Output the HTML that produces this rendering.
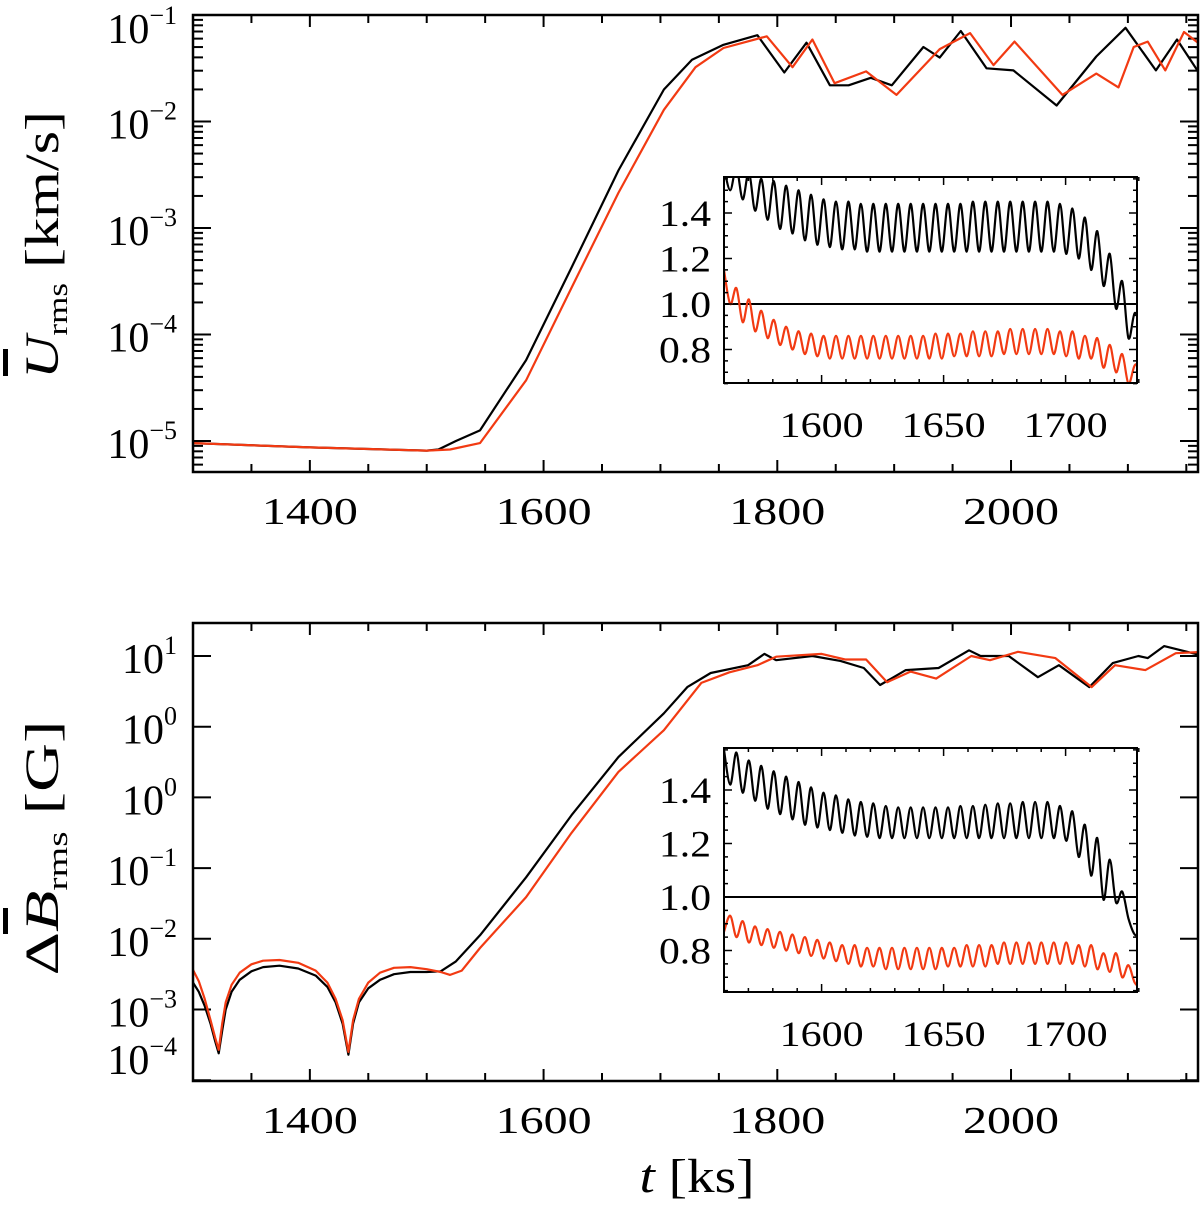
<!DOCTYPE html>
<html><head><meta charset="utf-8"><style>
html,body{margin:0;padding:0;background:#fff;}
svg{display:block;font-family:"Liberation Serif",serif;}
</style></head><body>
<svg id="fig" width="1200" height="1205" viewBox="0 0 1200 1205" xmlns="http://www.w3.org/2000/svg">
<rect width="1200" height="1205" fill="#fff"/>
<g id="top-panel"></g>
<g id="bottom-panel"></g>
<text transform="translate(58,245) rotate(-90)" text-anchor="middle" font-size="48" textLength="268" lengthAdjust="spacingAndGlyphs"><tspan font-style="italic">U</tspan><tspan font-size="28" dy="9">rms</tspan><tspan dy="-9"> [km/s]</tspan></text>
<rect x="3" y="349" width="5" height="27" fill="#000"/>
<text transform="translate(58,848) rotate(-90)" text-anchor="middle" font-size="48" textLength="255" lengthAdjust="spacingAndGlyphs">Δ<tspan font-style="italic">B</tspan><tspan font-size="28" dy="9">rms</tspan><tspan dy="-9"> [G]</tspan></text>
<rect x="3" y="908" width="5" height="26" fill="#000"/>
<text x="697" y="1192" text-anchor="middle" font-size="48" textLength="115" lengthAdjust="spacingAndGlyphs"><tspan font-style="italic">t</tspan> [ks]</text>
</svg>
<script>
// ---------- data ----------
const topBlackT = [1300,1400,1500,1510,1525,1545.6,1585,1624,1664,1703,1727,1754,1783,1806,1825,1845,1861,1880,1898,1925,1939,1957,1979,2002,2039,2073,2098,2124,2142,2160];
const topBlackV = [-5.02,-5.06,-5.09,-5.08,-5.0,-4.90,-4.24,-3.37,-2.46,-1.70,-1.42,-1.28,-1.19,-1.54,-1.26,-1.66,-1.66,-1.59,-1.66,-1.30,-1.40,-1.15,-1.50,-1.52,-1.85,-1.39,-1.12,-1.52,-1.23,-1.53];
const topRedT = [1300,1400,1500,1520,1545.6,1585,1624,1664,1703,1730,1754,1791,1813,1830,1849,1876,1902,1939,1965,1985,2003,2044,2073,2092,2105,2117,2132,2148,2160];
const topRedV = [-5.02,-5.06,-5.09,-5.08,-5.02,-4.43,-3.56,-2.67,-1.89,-1.49,-1.31,-1.20,-1.49,-1.23,-1.64,-1.53,-1.75,-1.32,-1.17,-1.47,-1.25,-1.75,-1.55,-1.68,-1.30,-1.25,-1.52,-1.16,-1.26];

const botBlackT = [1300,1305,1310,1315,1319,1322,1325,1328,1333,1340,1350,1360,1374,1390,1405,1415,1422,1428,1433,1437,1442,1450,1460,1472,1486,1500,1512,1525,1545.6,1585,1624,1664,1703,1723,1743,1775,1789,1799,1830,1854,1874,1888,1910,1938,1964,1974,1998,2023,2041,2067,2087,2109,2117,2131,2165];
const botBlackV = [-3.62,-3.75,-3.95,-4.2,-4.45,-4.62,-4.3,-4.0,-3.75,-3.58,-3.46,-3.40,-3.38,-3.42,-3.52,-3.68,-3.9,-4.2,-4.64,-4.2,-3.9,-3.7,-3.58,-3.50,-3.47,-3.47,-3.46,-3.32,-2.95,-2.13,-1.25,-0.43,0.19,0.56,0.76,0.87,1.03,0.94,1.0,0.93,0.83,0.59,0.80,0.83,1.08,1.0,1.0,0.70,0.87,0.56,0.9,1.0,0.97,1.14,1.0];
const botRedT = [1300,1305,1310,1315,1319,1322,1325,1328,1333,1340,1350,1360,1374,1390,1405,1415,1422,1428,1433,1437,1442,1450,1460,1472,1486,1500,1512,1520,1530,1545.6,1585,1624,1664,1703,1735,1759,1783,1799,1838,1858,1876,1894,1914,1936,1966,1982,2006,2038,2069,2089,2115,2141,2165];
const botRedV = [-3.44,-3.6,-3.85,-4.15,-4.4,-4.57,-4.2,-3.9,-3.65,-3.48,-3.36,-3.31,-3.30,-3.34,-3.45,-3.62,-3.85,-4.15,-4.6,-4.15,-3.85,-3.62,-3.48,-3.41,-3.40,-3.43,-3.47,-3.51,-3.45,-3.13,-2.41,-1.50,-0.64,-0.05,0.62,0.77,0.87,0.99,1.03,0.95,0.95,0.63,0.78,0.68,1.0,0.94,1.06,0.97,0.56,0.87,0.80,1.04,1.06];

const insetStart = 1560, insetStep = 2.55;
const inTopBlack = [1.60,1.50,1.60,1.46,1.58,1.41,1.55,1.37,1.54,1.33,1.52,1.31,1.50,1.28,1.48,1.26,1.46,1.25,1.45,1.24,
 1.45,1.24,1.44,1.23,1.44,1.23,1.44,1.23,1.44,1.23,1.44,1.23,1.44,1.23,1.44,1.23,1.44,1.23,1.44,1.23,
 1.45,1.23,1.45,1.23,1.45,1.23,1.45,1.23,1.45,1.23,1.45,1.23,1.45,1.23,1.44,1.22,1.42,1.20,1.38,1.15,
 1.32,1.08,1.22,0.98,1.10,0.85,0.96,0.90];
const inTopRed = [1.15,1.00,1.07,0.92,1.02,0.88,0.97,0.85,0.93,0.82,0.90,0.80,0.88,0.78,0.87,0.77,0.86,0.76,0.86,0.76,
 0.86,0.76,0.86,0.76,0.86,0.76,0.86,0.76,0.86,0.76,0.86,0.76,0.86,0.76,0.87,0.76,0.87,0.77,0.87,0.77,
 0.88,0.77,0.88,0.77,0.88,0.78,0.89,0.78,0.89,0.78,0.89,0.78,0.89,0.78,0.88,0.77,0.88,0.76,0.86,0.76,
 0.85,0.72,0.82,0.70,0.78,0.65,0.73,0.73];
const inBotBlack = [1.55,1.42,1.54,1.39,1.51,1.36,1.49,1.33,1.47,1.31,1.45,1.29,1.43,1.27,1.41,1.26,1.39,1.25,1.38,1.24,
 1.365,1.23,1.355,1.225,1.35,1.22,1.34,1.22,1.335,1.22,1.335,1.22,1.335,1.22,1.335,1.22,1.335,1.22,1.34,1.22,
 1.34,1.22,1.345,1.22,1.35,1.22,1.35,1.22,1.355,1.22,1.355,1.22,1.355,1.22,1.34,1.21,1.32,1.15,1.27,1.08,
 1.22,0.99,1.14,0.98,1.02,0.92,0.86,0.86];
const inBotRed = [0.87,0.93,0.85,0.91,0.83,0.89,0.82,0.88,0.81,0.87,0.80,0.86,0.79,0.85,0.78,0.84,0.77,0.83,0.76,0.82,
 0.75,0.82,0.74,0.81,0.74,0.81,0.73,0.81,0.73,0.81,0.73,0.81,0.73,0.81,0.73,0.81,0.74,0.81,0.74,0.82,
 0.74,0.82,0.74,0.82,0.75,0.83,0.75,0.83,0.75,0.83,0.75,0.83,0.75,0.83,0.75,0.83,0.75,0.82,0.74,0.82,
 0.73,0.79,0.72,0.79,0.70,0.745,0.68,0.66];

const mainXTicks = [1400,1600,1800,2000];
const mainXTickLabels = ["1400","1600","1800","2000"];
const topYTicks = [-1,-2,-3,-4,-5];
const topYTickLabels = ["−1","−2","−3","−4","−5"];
const botYTicks = [1,0,-1,-2,-3,-4,-5];
const botYTickLabels = ["1","0","0","−1","−2","−3","−4"];
const insetXTicks = [1600,1650,1700];
const insetXTickLabels = ["1600","1650","1700"];
const insetYTicks = [0.8,1.0,1.2,1.4];
const insetYTickLabels = ["0.8","1.0","1.2","1.4"];

// ---------- scales ----------
const NS = "http://www.w3.org/2000/svg";
const RED = "#f23a12";
const X = t => 193 + (t - 1300) * 1.1686;
const Y1 = l => 15 + (-1 - l) * 106.5;
const Y2 = d => 656 - (d - 1) * 70.7;
const XI = t => 724 + (t - 1560) * 2.44;
const YI1 = v => 304 - (v - 1) * 227.5;
const YI2 = v => 897 - (v - 1) * 267.5;

function mk(tag, attrs, parent) {
  const e = document.createElementNS(NS, tag);
  for (const k in attrs) e.setAttribute(k, attrs[k]);
  parent.appendChild(e);
  return e;
}
function line(p, x1, y1, x2, y2, w) {
  const l = mk("line", {x1, y1, x2, y2, stroke: "#000", "stroke-width": w || 2}, p);
  
  
  return l;
}
function polyPath(xs, ys) {
  return xs.map((x, i) => (i ? "L" : "M") + x.toFixed(1) + "," + ys[i].toFixed(1)).join("");
}
function smoothPath(xs, ys) {
  let d = "M" + xs[0].toFixed(1) + "," + ys[0].toFixed(1);
  for (let i = 0; i < xs.length - 1; i++) {
    const x0 = xs[Math.max(i - 1, 0)], y0 = ys[Math.max(i - 1, 0)];
    const x1 = xs[i], y1 = ys[i], x2 = xs[i + 1], y2 = ys[i + 1];
    const x3 = xs[Math.min(i + 2, xs.length - 1)], y3 = ys[Math.min(i + 2, xs.length - 1)];
    d += "C" + (x1 + (x2 - x0) / 6).toFixed(1) + "," + (y1 + (y2 - y0) / 6).toFixed(1) + " " +
      (x2 - (x3 - x1) / 6).toFixed(1) + "," + (y2 - (y3 - y1) / 6).toFixed(1) + " " + x2.toFixed(1) + "," + y2.toFixed(1);
  }
  return d;
}

function mainPanel(g, top, bottom, yFn, isTop) {
  const clipId = isTop ? "clipTop" : "clipBot";
  const cp = mk("clipPath", {id: clipId}, g);
  mk("rect", {x: 193, y: top, width: 1005, height: bottom - top}, cp);
  for (let t = 1300; t <= 2160; t += 50) {
    const major = t % 200 === 0;
    const L = major ? 12 : 8;
    line(g, X(t), bottom, X(t), bottom - L);
    line(g, X(t), top, X(t), top + L);
  }
  mainXTicks.forEach((t, i) => {
    const tx = mk("text", {x: X(t), y: bottom + 52, "text-anchor": "middle", "font-size": 38, textLength: 96, lengthAdjust: "spacingAndGlyphs"}, g);
    tx.textContent = mainXTickLabels[i];
    
    
  });
  const ticks = isTop ? topYTicks : botYTicks;
  const labels = isTop ? topYTickLabels : botYTickLabels;
  ticks.forEach((v, i) => {
    const y = yFn(v);
    line(g, 193, y, 211, y);
    line(g, 1198, y, 1180, y);
    if (isTop) {
      for (let m = 2; m <= 9; m++) {
        const ym = yFn(v + Math.log10(m));
        if (ym > top && ym < bottom) { line(g, 193, ym, 203, ym); line(g, 1198, ym, 1188, ym); }
        const ym2 = yFn(v - 1 + Math.log10(m));
        if (v === -5 && ym2 > top && ym2 < bottom) { line(g, 193, ym2, 203, ym2); line(g, 1198, ym2, 1188, ym2); }
      }
    }
    const by = Math.max(top + 28, Math.min(y + 17, isTop ? 470 : 1074));
    const tx = mk("text", {x: 177, y: by, "text-anchor": "end", "font-size": 42}, g);
    
    
    tx.appendChild(document.createTextNode("10"));
    const sp = mk("tspan", {dy: -19, "font-size": 26}, tx);
    sp.textContent = labels[i];
  });
}

function inset(g, top, bottom, yFn, blackV, redV, name) {
  const bg = mk("rect", {x: 724, y: top, width: 413, height: bottom - top, fill: "#fff"}, g);
  
  
  const clipId = name + "-clip";
  const cp = mk("clipPath", {id: clipId}, g);
  mk("rect", {x: 724, y: top, width: 413, height: bottom - top}, cp);
  const cg = mk("g", {"clip-path": "url(#" + clipId + ")"}, g);
  const ref = mk("line", {x1: 724, x2: 1137, y1: yFn(1), y2: yFn(1), stroke: "#000", "stroke-width": 2}, cg);
  
  
  [[blackV, "#000", "black"], [redV, RED, "red"]].forEach(([arr, col, nm]) => {
    const xs = arr.map((v, i) => XI(insetStart + i * insetStep));
    const ys = arr.map(v => yFn(v));
    const p = mk("path", {d: smoothPath(xs, ys), fill: "none", stroke: col, "stroke-width": 2.2}, cg);
    
    
  });
  for (let t = 1560; t <= 1730; t += 10) {
    const L = t % 50 === 0 ? 8 : 4;
    line(g, XI(t), bottom, XI(t), bottom - L, 1.5);
    line(g, XI(t), top, XI(t), top + L, 1.5);
  }
  for (let v = 0.65; v <= 1.56; v += 0.05) {
    const vv = Math.round(v * 100) / 100;
    const L = Math.abs(vv * 5 - Math.round(vv * 5)) < 1e-6 ? 8 : 4;
    line(g, 724, yFn(vv), 724 + L, yFn(vv), 1.5);
    line(g, 1137, yFn(vv), 1137 - L, yFn(vv), 1.5);
  }
  insetXTicks.forEach((t, i) => {
    const tx = mk("text", {x: XI(t), y: bottom + 54, "text-anchor": "middle", "font-size": 36, textLength: 84, lengthAdjust: "spacingAndGlyphs"}, g);
    tx.textContent = insetXTickLabels[i];
    
    
  });
  insetYTicks.forEach((v, i) => {
    const tx = mk("text", {x: 711, y: yFn(v) + 13, "text-anchor": "end", "font-size": 37, textLength: 52, lengthAdjust: "spacingAndGlyphs"}, g);
    tx.textContent = insetYTickLabels[i];
    
    
  });
  const fr = mk("rect", {x: 724, y: top, width: 413, height: bottom - top, fill: "none", stroke: "#000", "stroke-width": 2}, g);
  
  
}

function series(g, ts, vs, yFn, col, nm, clipId) {
  const p = mk("path", {d: polyPath(ts.map(X), vs.map(yFn)), fill: "none", stroke: col, "stroke-width": 2.2, "stroke-linejoin": "round", "clip-path": "url(#" + clipId + ")"}, g);
  
  
}

const gt = document.getElementById("top-panel");
mainPanel(gt, 15, 472, Y1, true);
series(gt, topBlackT, topBlackV, Y1, "#000", "urms-black-series", "clipTop");
series(gt, topRedT, topRedV, Y1, RED, "urms-red-series", "clipTop");
const ft = mk("rect", {x: 193, y: 15, width: 1005, height: 457, fill: "none", stroke: "#000", "stroke-width": 2.5}, gt);


inset(gt, 177, 383, YI1, inTopBlack, inTopRed, "top-inset");

const gb = document.getElementById("bottom-panel");
mainPanel(gb, 623, 1081, Y2, false);
series(gb, botBlackT, botBlackV, Y2, "#000", "brms-black-series", "clipBot");
series(gb, botRedT, botRedV, Y2, RED, "brms-red-series", "clipBot");
const fb = mk("rect", {x: 193, y: 623, width: 1005, height: 458, fill: "none", stroke: "#000", "stroke-width": 2.5}, gb);


inset(gb, 748, 992, YI2, inBotBlack, inBotRed, "bottom-inset");
</script>
</body></html>
